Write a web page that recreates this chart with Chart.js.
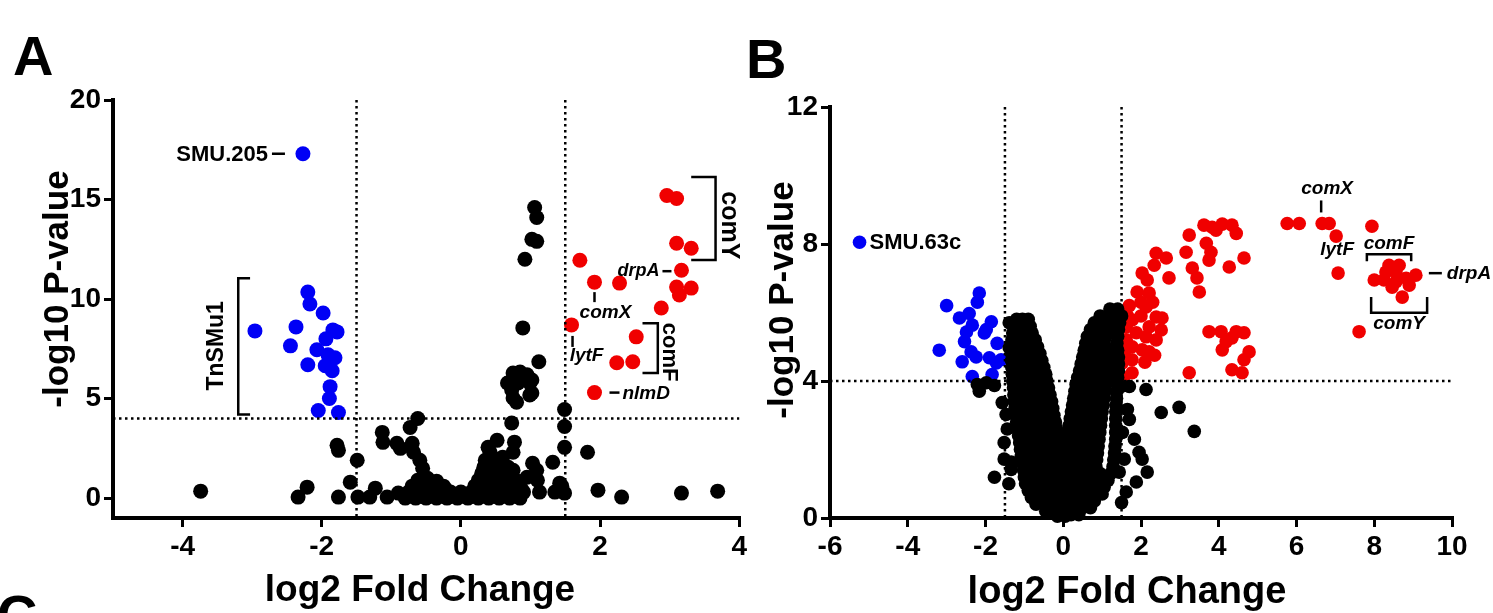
<!DOCTYPE html>
<html>
<head>
<meta charset="utf-8">
<script src="https://cdn.jsdelivr.net/npm/chart.js@4.4.1/dist/chart.umd.min.js"></script>
<style>
  html, body { margin: 0; padding: 0; background: #fff; overflow: hidden; width: 1493px; height: 613px; }
  canvas { position: absolute; top: 0; }
  .tag { position: absolute; font: bold 56px "Liberation Sans", Arial, sans-serif; color: #000; line-height: 1; }
</style>
</head>
<body>
<canvas id="volcanoA" style="left:0" width="750" height="613"></canvas>
<canvas id="volcanoB" style="left:750px" width="743" height="613"></canvas>
<div class="tag" style="left:13px; top:28px;">A</div>
<div class="tag" style="left:746px; top:31px;">B</div>
<div class="tag" style="left:-3px; top:587px;">C</div>
<script>
const FONT = '"Liberation Sans", Arial, Helvetica, sans-serif';
const RED = '#f00000';
const BLUE = '#0000f5';
const FC_CUT = 1.5;   // |log2 FC| threshold
const P_CUT = 4;      // -log10 p threshold

// ---- panel A ----
const aTicksX = [-4, -2, 0, 2, 4];
const aTicksY = [0, 5, 10, 15, 20];

// down-regulated (blue); first entry is SMU.205
const aDown = [
  [-2.27, 17.3], [-2.96, 8.4], [-2.2, 10.35], [-2.17, 9.75], [-1.98, 9.3], [-2.37, 8.6],
  [-1.84, 8.45], [-1.78, 8.35], [-1.94, 8.0], [-2.45, 7.65], [-2.07, 7.45], [-1.91, 7.2],
  [-1.81, 7.05], [-2.2, 6.7], [-1.95, 6.65], [-1.85, 6.4], [-1.88, 5.6], [-1.89, 5.0],
  [-2.05, 4.4], [-1.76, 4.3]
];

// up-regulated (red)
const aUp = [
  [2.96, 15.2], [3.1, 15.05], [3.1, 12.8], [3.31, 12.55], [1.71, 11.95], [3.17, 11.45],
  [1.92, 10.85], [2.28, 10.8], [3.1, 10.6], [3.31, 10.55], [3.14, 10.2], [2.88, 9.55],
  [1.59, 8.7], [2.52, 8.1], [2.24, 6.8], [2.47, 6.85], [1.92, 5.3]
];

// not significant (black)
const aOther = [
  [-3.74, 0.35], [-2.34, 0.05], [-2.21, 0.55], [-1.78, 2.65], [-1.76, 2.4], [-1.76, 0.05],
  [-1.59, 0.8], [-1.49, 1.9], [-1.48, 0.05], [-1.31, 0.05], [-1.23, 0.5], [-1.13, 3.3],
  [-1.12, 2.8], [-1.06, 0.05], [-0.92, 2.75], [-0.87, 2.5], [-0.9, 0.25], [-0.73, 3.55],
  [-0.62, 4.0], [-0.7, 2.75], [-0.68, 2.3], [-0.59, 1.9], [-0.55, 1.5],
  [-0.8, 0], [-0.65, 0], [-0.5, 0], [-0.35, 0], [-0.2, 0], [-0.05, 0], [0.1, 0], [0.25, 0],
  [0.4, 0], [0.55, 0], [0.7, 0], [0.85, 0],
  [-0.72, 0.15], [-0.57, 0.15], [-0.42, 0.15], [-0.27, 0.15], [-0.12, 0.15], [0.03, 0.15],
  [0.18, 0.15], [0.33, 0.15], [0.48, 0.15], [0.63, 0.15], [0.78, 0.15],
  [-0.75, 0.3], [-0.6, 0.3], [-0.45, 0.3], [-0.3, 0.3], [-0.15, 0.3], [0, 0.3], [0.15, 0.3],
  [0.3, 0.3], [0.45, 0.3], [0.6, 0.3], [0.75, 0.3], [0.9, 0.3],
  [-0.67, 0.45], [-0.52, 0.45], [-0.37, 0.45], [-0.22, 0.45], [0.27, 0.45], [0.42, 0.45],
  [0.57, 0.45], [0.72, 0.45], [0.87, 0.45],
  [-0.7, 0.6], [-0.55, 0.6], [-0.4, 0.6], [-0.25, 0.6], [0.2, 0.6], [0.35, 0.6], [0.5, 0.6],
  [0.65, 0.6], [0.8, 0.6],
  [-0.62, 0.9], [-0.48, 1.0], [-0.35, 0.85], [0.25, 0.9], [0.4, 0.95], [0.55, 0.9], [0.7, 0.95],
  [0.82, 0.85],
  [0.3, 1.25], [0.45, 1.2], [0.6, 1.3], [0.75, 1.4], [0.33, 1.55], [0.5, 1.6], [0.68, 1.55],
  [0.35, 1.9], [0.55, 1.95], [0.42, 2.3], [0.6, 2.05], [0.75, 2.3], [0.39, 2.55], [0.52, 2.9],
  [1.06, 14.6], [1.09, 14.1], [1.02, 13.0], [1.09, 12.9], [0.92, 12.0], [0.89, 8.55],
  [1.12, 6.85], [0.75, 6.28], [0.85, 6.33], [0.95, 6.2], [1.02, 5.93], [0.67, 5.78],
  [0.82, 5.78], [0.99, 5.78], [0.73, 5.43], [1.02, 5.28], [0.75, 5.03], [0.99, 5.18],
  [0.8, 4.82], [0.73, 3.77], [0.77, 2.81],
  [0.95, 1.05], [1.03, 1.75], [1.09, 1.4], [1.1, 0.9], [1.13, 0.3], [1.32, 1.8], [1.35, 0.3],
  [1.42, 0.75], [1.49, 4.45], [1.49, 3.6], [1.49, 2.55], [1.49, 0.25], [1.45, 0.6],
  [1.82, 2.3], [1.97, 0.4], [2.31, 0.05], [3.17, 0.25], [3.69, 0.35]
];

// ---- panel B ----
const bTicksX = [-6, -4, -2, 0, 2, 4, 6, 8, 10];
const bTicksY = [0, 4, 8, 12];

// down-regulated (blue); first entry is SMU.63c
const bDown = [
  [-5.24, 8.05], [-2.16, 6.57], [-2.21, 6.3], [-3.0, 6.2], [-2.42, 5.97], [-2.67, 5.84],
  [-1.85, 5.73], [-2.34, 5.63], [-2.49, 5.43], [-2.03, 5.4], [-1.98, 5.5], [-2.54, 5.15],
  [-1.7, 5.1], [-3.19, 4.9], [-2.37, 4.85], [-2.24, 4.7], [-2.6, 4.56], [-1.9, 4.68],
  [-1.72, 4.53], [-1.6, 4.62], [-2.34, 4.13], [-1.83, 4.19]
];

// up-regulated (red)
const bUp = [
  [3.62, 8.55], [3.93, 8.4], [4.34, 8.55], [4.45, 8.31], [4.09, 8.58], [3.83, 8.49],
  [3.24, 8.26], [3.16, 7.76], [3.68, 8.02], [3.8, 7.76], [3.75, 7.53], [4.65, 7.59],
  [4.27, 7.33], [3.32, 7.3], [3.44, 7.01], [3.5, 6.6],
  [2.39, 7.73], [2.65, 7.59], [2.34, 7.38], [2.03, 7.15], [2.72, 7.01], [2.16, 6.95],
  [1.9, 6.6], [2.21, 6.57], [2.13, 6.16], [2.39, 5.87], [2.54, 5.84], [1.77, 5.78],
  [2.21, 5.58], [2.52, 5.49], [1.62, 5.58], [1.88, 5.41], [2.13, 5.29], [2.39, 5.2],
  [1.62, 5.2], [1.77, 5.0], [2.03, 4.91], [2.21, 4.85], [1.57, 4.83], [1.77, 4.62],
  [1.52, 4.53], [1.77, 4.24], [1.55, 4.1], [2.1, 4.55], [2.35, 4.75], [1.7, 6.2],
  [2.0, 6.3], [2.3, 6.3], [1.65, 5.9], [2.0, 5.9], [3.24, 4.24],
  [3.75, 5.44], [4.06, 5.44], [4.45, 5.44], [4.65, 5.41], [4.19, 5.15], [4.34, 5.26],
  [4.78, 4.85], [4.09, 4.91], [4.65, 4.62], [4.34, 4.33], [4.6, 4.24],
  [5.76, 8.6], [6.07, 8.6], [6.66, 8.6], [6.84, 8.6], [7.02, 8.23], [7.07, 7.15],
  [7.94, 8.52], [7.61, 5.44],
  [8.38, 7.38], [8.64, 7.38], [8.3, 7.18], [8.56, 7.18], [8.0, 6.95], [8.25, 6.95],
  [8.56, 6.9], [8.82, 7.0], [9.07, 7.09], [8.46, 6.74], [8.72, 6.45], [8.9, 6.8]
];

// not significant (black): scattered genes, then the two dense arms of the V
const bOther = [
  [-1.08, 5.78], [-1.39, 5.7], [-0.93, 5.4], [-0.8, 5.0], [-1.39, 4.97], [-1.31, 4.39],
  [-2.21, 3.9], [-2.16, 3.7], [-1.98, 3.95], [-1.77, 3.87], [-1.57, 3.37], [-1.47, 3.02],
  [-1.52, 2.2], [-1.52, 1.72], [-1.34, 1.63], [-1.77, 1.19], [-1.44, 2.6], [-1.34, 1.42],
  [-1.4, 1.0],
  [1.26, 6.07], [1.49, 3.84], [1.7, 3.84], [2.13, 3.75], [2.52, 3.08], [2.98, 3.23],
  [3.37, 2.53], [1.65, 3.17], [1.7, 2.88], [1.52, 2.5], [1.83, 2.3], [1.95, 1.92],
  [2.03, 1.72], [1.57, 1.72], [1.44, 1.34], [2.16, 1.34], [1.88, 1.05], [1.62, 0.76],
  [1.5, 0.45],
  // left arm
  [-1.2, 5.8], [-1.05, 5.8], [-0.9, 5.8],
  [-1.25, 5.6], [-1.05, 5.6], [-0.85, 5.6],
  [-1.3, 5.4], [-1.1, 5.4], [-0.9, 5.4], [-0.8, 5.4],
  [-1.32, 5.2], [-1.12, 5.2], [-0.92, 5.2], [-0.72, 5.2],
  [-1.33, 5.0], [-1.13, 5.0], [-0.9, 5.0], [-0.66, 5.0],
  [-1.33, 4.8], [-1.1, 4.8], [-0.85, 4.8], [-0.6, 4.8],
  [-1.33, 4.6], [-1.1, 4.6], [-0.85, 4.6], [-0.55, 4.6],
  [-1.32, 4.4], [-1.1, 4.4], [-0.88, 4.4], [-0.68, 4.4], [-0.5, 4.4],
  [-1.31, 4.2], [-1.08, 4.2], [-0.86, 4.2], [-0.65, 4.2], [-0.45, 4.2],
  [-1.3, 4.0], [-1.08, 4.0], [-0.86, 4.0], [-0.64, 4.0], [-0.42, 4.0],
  [-1.28, 3.8], [-1.06, 3.8], [-0.83, 3.8], [-0.6, 3.8], [-0.38, 3.8],
  [-1.27, 3.6], [-1.05, 3.6], [-0.8, 3.6], [-0.57, 3.6], [-0.34, 3.6],
  [-1.26, 3.4], [-1.02, 3.4], [-0.78, 3.4], [-0.54, 3.4], [-0.3, 3.4],
  [-1.24, 3.2], [-1.0, 3.2], [-0.75, 3.2], [-0.5, 3.2], [-0.27, 3.2],
  [-1.22, 3.0], [-0.98, 3.0], [-0.73, 3.0], [-0.48, 3.0], [-0.24, 3.0],
  [-1.2, 2.8], [-0.95, 2.8], [-0.7, 2.8], [-0.45, 2.8], [-0.2, 2.8],
  [-1.18, 2.6], [-0.93, 2.6], [-0.68, 2.6], [-0.42, 2.6], [-0.17, 2.6],
  [-1.15, 2.4], [-0.9, 2.4], [-0.65, 2.4], [-0.4, 2.4], [-0.14, 2.4],
  [-1.12, 2.2], [-0.88, 2.2], [-0.62, 2.2], [-0.36, 2.2], [-0.11, 2.2],
  [-1.1, 2.0], [-0.85, 2.0], [-0.6, 2.0], [-0.34, 2.0], [-0.08, 2.0],
  [-1.08, 1.8], [-0.83, 1.8], [-0.57, 1.8], [-0.31, 1.8], [-0.05, 1.8],
  [-1.05, 1.6], [-0.8, 1.6], [-0.55, 1.6], [-0.28, 1.6], [-0.02, 1.6],
  [-1.02, 1.4], [-0.77, 1.4], [-0.52, 1.4], [-0.26, 1.4], [0, 1.4],
  [-1.0, 1.2], [-0.75, 1.2], [-0.5, 1.2], [-0.25, 1.2], [0, 1.2],
  [-0.97, 1.0], [-0.72, 1.0], [-0.47, 1.0], [-0.22, 1.0], [0.02, 1.0],
  [-0.9, 0.8], [-0.66, 0.8], [-0.42, 0.8], [-0.18, 0.8], [0.05, 0.8],
  [-0.82, 0.6], [-0.58, 0.6], [-0.34, 0.6], [-0.1, 0.6], [0.1, 0.6],
  [-0.7, 0.4], [-0.47, 0.4], [-0.24, 0.4], [0, 0.4],
  [-0.45, 0.2], [-0.22, 0.2], [0, 0.2],
  [-0.15, 0.05], [0.05, 0.05],
  // right arm
  [1.2, 6.1], [1.4, 6.1],
  [0.95, 5.9], [1.15, 5.9], [1.35, 5.9], [1.5, 5.9],
  [0.8, 5.7], [1.0, 5.7], [1.22, 5.7], [1.45, 5.7],
  [0.7, 5.5], [0.92, 5.5], [1.15, 5.5], [1.42, 5.5],
  [0.62, 5.3], [0.85, 5.3], [1.1, 5.3], [1.4, 5.3],
  [0.58, 5.1], [0.8, 5.1], [1.05, 5.1], [1.38, 5.1],
  [0.54, 4.9], [0.77, 4.9], [1.0, 4.9], [1.22, 4.9], [1.4, 4.9],
  [0.5, 4.7], [0.73, 4.7], [0.96, 4.7], [1.2, 4.7], [1.42, 4.7],
  [0.46, 4.5], [0.7, 4.5], [0.93, 4.5], [1.17, 4.5], [1.42, 4.5],
  [0.42, 4.3], [0.66, 4.3], [0.9, 4.3], [1.15, 4.3], [1.42, 4.3],
  [0.37, 4.1], [0.62, 4.1], [0.87, 4.1], [1.12, 4.1], [1.4, 4.1],
  [0.33, 3.9], [0.58, 3.9], [0.84, 3.9], [1.1, 3.9], [1.4, 3.9],
  [0.3, 3.7], [0.55, 3.7], [0.8, 3.7], [1.08, 3.7], [1.38, 3.7],
  [0.27, 3.5], [0.52, 3.5], [0.78, 3.5], [1.05, 3.5], [1.37, 3.5],
  [0.24, 3.3], [0.5, 3.3], [0.76, 3.3], [1.03, 3.3], [1.36, 3.3],
  [0.21, 3.1], [0.47, 3.1], [0.73, 3.1], [1.0, 3.1], [1.35, 3.1],
  [0.18, 2.9], [0.44, 2.9], [0.7, 2.9], [0.98, 2.9], [1.35, 2.9],
  [0.15, 2.7], [0.42, 2.7], [0.68, 2.7], [0.96, 2.7], [1.35, 2.7],
  [0.13, 2.5], [0.4, 2.5], [0.66, 2.5], [0.94, 2.5], [1.35, 2.5],
  [0.11, 2.3], [0.38, 2.3], [0.64, 2.3], [0.92, 2.3], [1.35, 2.3],
  [0.09, 2.1], [0.36, 2.1], [0.62, 2.1], [0.9, 2.1], [1.33, 2.1],
  [0.08, 1.9], [0.34, 1.9], [0.6, 1.9], [0.88, 1.9], [1.32, 1.9],
  [0.06, 1.7], [0.32, 1.7], [0.58, 1.7], [0.86, 1.7], [1.3, 1.7],
  [0.05, 1.5], [0.3, 1.5], [0.56, 1.5], [0.84, 1.5], [1.28, 1.5],
  [0.2, 1.3], [0.45, 1.3], [0.7, 1.3], [0.95, 1.3], [1.22, 1.3],
  [0.25, 1.1], [0.5, 1.1], [0.75, 1.1], [1.0, 1.1], [1.15, 1.1],
  [0.3, 0.9], [0.55, 0.9], [0.8, 0.9], [1.05, 0.9],
  [0.3, 0.7], [0.55, 0.7], [0.8, 0.7], [1.0, 0.7],
  [0.3, 0.5], [0.55, 0.5], [0.8, 0.5],
  [0.25, 0.3], [0.5, 0.3], [0.7, 0.3],
  [0.2, 0.1], [0.4, 0.1]
];

const pts = arr => arr.map(([x, y]) => ({ x, y }));

function axis(min, max, ticks, position, fitKey, fitVal) {
  return {
    type: 'linear', position, min, max,
    afterBuildTicks: s => { s.ticks = ticks.map(v => ({ value: v })); },
    afterFit: s => { s[fitKey] = fitVal; },
    grid: { display: true, drawOnChartArea: false, drawTicks: true, tickLength: 9, lineWidth: 3, color: '#000' },
    border: { display: true, width: 4, color: '#000' },
    ticks: {
      font: { family: FONT, size: 28, weight: 'bold' }, color: '#000', padding: 3,
      maxRotation: 0, autoSkip: false, callback: v => String(v)
    }
  };
}

function line(ctx, coords) {
  ctx.beginPath();
  ctx.moveTo(coords[0][0], coords[0][1]);
  for (let i = 1; i < coords.length; i++) ctx.lineTo(coords[i][0], coords[i][1]);
  ctx.stroke();
}

function text(ctx, s, x, y, size, opts = {}) {
  ctx.save();
  ctx.font = `${opts.italic ? 'italic ' : ''}bold ${size}px ${FONT}`;
  ctx.fillStyle = '#000';
  ctx.textAlign = opts.align || 'center';
  ctx.textBaseline = opts.baseline || 'middle';
  ctx.translate(x, y);
  if (opts.rot) ctx.rotate(opts.rot);
  ctx.fillText(s, 0, 0);
  ctx.restore();
}

// dotted threshold lines, drawn over the points
const guides = {
  id: 'guides',
  afterDatasetsDraw(chart) {
    const { ctx, chartArea: a, scales: { x, y } } = chart;
    ctx.save();
    ctx.strokeStyle = '#000';
    ctx.lineWidth = 2.5;
    ctx.setLineDash([2.5, 3.5]);
    ctx.beginPath();
    [-FC_CUT, FC_CUT].forEach(v => {
      const px = x.getPixelForValue(v);
      ctx.moveTo(px, a.top);
      ctx.lineTo(px, a.bottom);
    });
    const py = y.getPixelForValue(P_CUT);
    ctx.moveTo(a.left, py);
    ctx.lineTo(a.right, py);
    ctx.stroke();
    ctx.restore();
  }
};

function makeChart(id, sets, scales, padding, radius, notes) {
  return new Chart(document.getElementById(id), {
    type: 'scatter',
    data: {
      datasets: [
        { data: pts(sets.other), backgroundColor: '#000', order: 0 },
        { data: pts(sets.down), backgroundColor: BLUE, order: 1 },
        { data: pts(sets.up), backgroundColor: RED, order: 2 }
      ].map(d => ({ ...d, pointRadius: radius, pointHoverRadius: radius, borderWidth: 0, clip: false }))
    },
    options: {
      responsive: false,
      animation: false,
      events: [],
      layout: { padding },
      scales,
      plugins: { legend: { display: false }, tooltip: { enabled: false } }
    },
    plugins: [guides, { id: 'notes', afterDraw: notes }]
  });
}

// ---- chart A ----
makeChart('volcanoA', { other: aOther, down: aDown, up: aUp },
  { x: axis(-5, 4, aTicksX, 'bottom', 'height', 95), y: axis(-1, 20, aTicksY, 'left', 'width', 113) },
  { left: 0, top: 100, right: 10, bottom: 0 }, 7.5,
  chart => {
    const { ctx, scales: { x, y } } = chart;
    const P = (vx, vy) => [x.getPixelForValue(vx), y.getPixelForValue(vy)];
    ctx.save();
    ctx.strokeStyle = '#000';
    ctx.lineWidth = 2.5;

    text(ctx, 'log2 Fold Change', 420, 601, 37, { baseline: 'alphabetic' });
    text(ctx, '-log10 P-value', 68, 289, 35, { baseline: 'alphabetic', rot: -Math.PI / 2 });

    // SMU.205
    let [px, py] = P(...aDown[0]);
    line(ctx, [[px - 31, py], [px - 18, py]]);
    text(ctx, 'SMU.205', px - 35, py + 1, 22, { align: 'right' });

    // TnSMu1 bracket
    line(ctx, [P(-3.03, 11.05), P(-3.2, 11.05), P(-3.2, 4.2), P(-3.03, 4.2)]);
    text(ctx, 'TnSMu1', P(-3.2, 0)[0] - 22, P(0, 7.65)[1], 23, { rot: -Math.PI / 2 });

    // comY bracket
    line(ctx, [P(3.31, 16.13), P(3.66, 16.13), P(3.66, 11.96), P(3.31, 11.96)]);
    text(ctx, 'comY', P(3.66, 0)[0] + 13, P(0, 13.7)[1], 25, { rot: Math.PI / 2 });

    // drpA
    [px, py] = P(...aUp[5]);
    line(ctx, [[px - 19, py + 1], [px - 10, py + 1]]);
    text(ctx, 'drpA', px - 22, py + 1, 18, { align: 'right', italic: true });

    // comX
    [px, py] = P(...aUp[6]);
    line(ctx, [[px, py + 10], [px, py + 20]]);
    text(ctx, 'comX', px + 11, py + 31, 19, { italic: true });

    // lytF
    [px, py] = P(...aUp[12]);
    line(ctx, [[px + 1, py + 11], [px + 1, py + 22]]);
    text(ctx, 'lytF', px + 15, py + 31, 19, { italic: true });

    // comF bracket
    line(ctx, [P(2.61, 8.79), P(2.83, 8.79), P(2.83, 6.28), P(2.61, 6.28)]);
    text(ctx, 'comF', P(2.83, 0)[0] + 11, P(0, 7.33)[1], 22, { rot: Math.PI / 2 });

    // nlmD
    [px, py] = P(...aUp[16]);
    line(ctx, [[px + 15, py], [px + 25, py]]);
    text(ctx, 'nlmD', px + 28, py + 1, 19, { align: 'left', italic: true });
    ctx.restore();
  });

// ---- chart B ----
makeChart('volcanoB', { other: bOther, down: bDown, up: bUp },
  { x: axis(-6, 10, bTicksX, 'bottom', 'height', 95), y: axis(0, 12, bTicksY, 'left', 'width', 80) },
  { left: 0, top: 107, right: 41, bottom: 0 }, 6.8,
  chart => {
    const { ctx, scales: { x, y } } = chart;
    const P = (vx, vy) => [x.getPixelForValue(vx), y.getPixelForValue(vy)];
    ctx.save();
    ctx.strokeStyle = '#000';
    ctx.lineWidth = 2.5;

    text(ctx, 'log2 Fold Change', 377, 603, 38, { baseline: 'alphabetic' });
    text(ctx, '-log10 P-value', 43, 300, 35, { baseline: 'alphabetic', rot: -Math.PI / 2 });

    // SMU.63c
    let [px, py] = P(...bDown[0]);
    text(ctx, 'SMU.63c', px + 10, py + 1, 22, { align: 'left' });

    // comX
    [px, py] = P(6.66, 8.6);
    line(ctx, [[px - 1, py - 23], [px - 1, py - 11]]);
    text(ctx, 'comX', px + 5, py - 35, 19, { italic: true });

    // lytF
    [px, py] = P(7.02, 8.23);
    text(ctx, 'lytF', px + 1, py + 14, 19, { italic: true });

    // comF bracket
    line(ctx, [P(7.81, 7.5), P(7.81, 7.7), P(8.95, 7.7), P(8.95, 7.5)]);
    [px, py] = P(8.38, 7.7);
    text(ctx, 'comF', px, py - 11, 19, { italic: true });

    // comY bracket
    line(ctx, [P(7.92, 6.45), P(7.92, 5.99), P(9.36, 5.99), P(9.36, 6.45)]);
    [px, py] = P(8.64, 5.99);
    text(ctx, 'comY', px, py + 11, 19, { italic: true });

    // drpA
    [px, py] = P(9.07, 7.09);
    line(ctx, [[px + 13, py - 2], [px + 26, py - 2]]);
    text(ctx, 'drpA', px + 31, py - 1, 19, { align: 'left', italic: true });
    ctx.restore();
  });
</script>
</body>
</html>
